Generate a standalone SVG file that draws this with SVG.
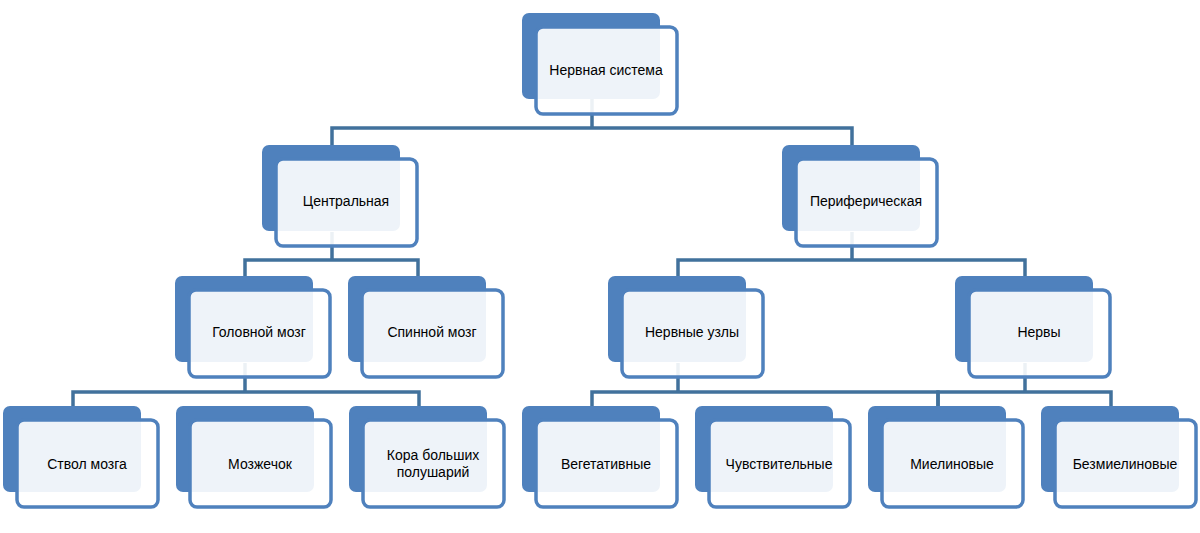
<svg xmlns="http://www.w3.org/2000/svg" width="1200" height="533" viewBox="0 0 1200 533">
<style>
.b{fill:#4f81bd}
.f{fill:#fff;fill-opacity:.9;stroke:#4f81bd;stroke-width:3.5}
.c{fill:none;stroke:#41719c;stroke-width:3.5}
text{font-family:"Liberation Sans",Arial,sans-serif;font-size:14px;fill:#000;text-anchor:middle}
</style>
<rect width="1200" height="533" fill="#fff"/>
<defs>
<g id="n"><rect class="b" x="0" y="0" width="138" height="86" rx="7"/><rect class="f" x="14" y="14" width="141" height="87" rx="7"/></g>
</defs>
<g id="connectors">
<path class="c" d="M592 99V128M332 145V128H852V145"/>
<path class="c" d="M332 232V260M245 276V260H418V276"/>
<path class="c" d="M852 232V260M678 276V260H1025V276"/>
<path class="c" d="M245 363V392M73 406V392H419V406"/>
<path class="c" d="M678 363V392M592 406V392H938V406"/>
<path class="c" d="M1025 363V392M938 406V392H1111V406"/>
</g>
<g id="n1" transform="translate(522,13)"><use href="#n"/><text x="84" y="62">Нервная система</text></g>
<g id="n2" transform="translate(262,145)"><use href="#n"/><text x="84" y="61">Центральная</text></g>
<g id="n3" transform="translate(782,145)"><use href="#n"/><text x="84" y="61">Периферическая</text></g>
<g id="n4" transform="translate(175,276)"><use href="#n"/><text x="84" y="61">Головной мозг</text></g>
<g id="n5" transform="translate(348,276)"><use href="#n"/><text x="84" y="61">Спинной мозг</text></g>
<g id="n6" transform="translate(608,276)"><use href="#n"/><text x="84" y="61">Нервные узлы</text></g>
<g id="n7" transform="translate(955,276)"><use href="#n"/><text x="84" y="61">Нервы</text></g>
<g id="n8" transform="translate(3,406)"><use href="#n"/><text x="84" y="63">Ствол мозга</text></g>
<g id="n9" transform="translate(176,406)"><use href="#n"/><text x="84" y="63">Мозжечок</text></g>
<g id="n10" transform="translate(349,406)"><use href="#n"/><text x="84" y="54">Кора больших</text><text x="84" y="71">полушарий</text></g>
<g id="n11" transform="translate(522,406)"><use href="#n"/><text x="84" y="63">Вегетативные</text></g>
<g id="n12" transform="translate(695,406)"><use href="#n"/><text x="84" y="63">Чувствительные</text></g>
<g id="n13" transform="translate(868,406)"><use href="#n"/><text x="84" y="63">Миелиновые</text></g>
<g id="n14" transform="translate(1041,406)"><use href="#n"/><text x="84" y="63">Безмиелиновые</text></g>
</svg>
